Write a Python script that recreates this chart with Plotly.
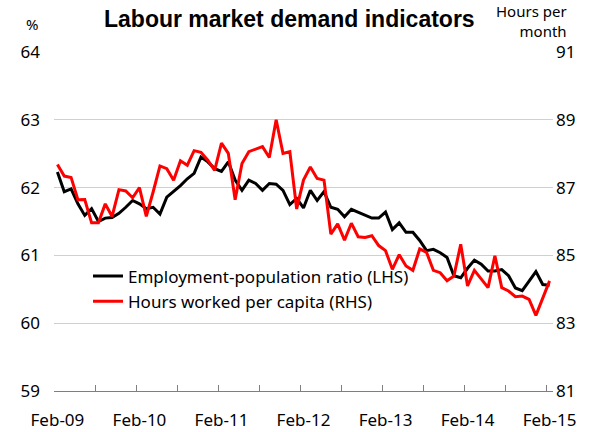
import plotly.graph_objects as go
import pandas as pd

months = pd.date_range("2009-02-01", "2015-02-01", freq="MS").strftime("%b-%y").tolist()

emp_pop_ratio = [
    62.23, 61.94, 61.98, 61.76, 61.59, 61.69, 61.50, 61.55, 61.56, 61.62,
    61.71, 61.81, 61.76, 61.69, 61.71, 61.61, 61.86, 61.94, 62.03, 62.13,
    62.21, 62.45, 62.38, 62.28, 62.24, 62.38, 62.11, 61.96, 62.11, 62.06,
    61.96, 62.06, 62.05, 61.96, 61.75, 61.84, 61.70, 61.96, 61.81, 61.94,
    61.71, 61.68, 61.57, 61.68, 61.64, 61.60, 61.55, 61.55, 61.64, 61.38,
    61.48, 61.34, 61.34, 61.22, 61.07, 61.09, 61.04, 60.97, 60.70, 60.67,
    60.81, 60.93, 60.87, 60.77, 60.77, 60.79, 60.70, 60.52, 60.48, 60.62,
    60.76, 60.57, 60.56,
]

hours_per_capita = [
    87.68, 87.34, 87.30, 86.64, 86.65, 85.96, 85.96, 86.52, 86.15, 86.94,
    86.90, 86.70, 87.00, 86.15, 86.87, 87.64, 87.56, 87.22, 87.79, 87.66,
    88.09, 88.04, 87.81, 87.51, 88.31, 88.01, 86.64, 87.71, 88.06, 88.13,
    88.21, 87.89, 89.00, 88.01, 88.06, 86.37, 87.22, 87.61, 87.27, 87.22,
    85.63, 85.93, 85.45, 85.95, 85.55, 85.53, 85.58, 85.29, 85.14, 84.59,
    85.02, 84.69, 84.56, 85.19, 85.09, 84.56, 84.49, 84.25, 84.39, 85.33,
    84.10, 84.56, 84.29, 84.05, 84.99, 84.05, 83.95, 83.78, 83.80, 83.70,
    83.23, 83.75, 84.25,
]

x_tick_labels = ["Feb-09", "Feb-10", "Feb-11", "Feb-12", "Feb-13", "Feb-14", "Feb-15"]
x_tick_positions = [months.index(lbl) for lbl in x_tick_labels]
idx = list(range(len(months)))
# tick marks sit between categories, every 6 months
x_tick_marks = [i - 0.5 for i in range(0, len(months) + 1, 6)]

BODY_FONT = "Noto Sans"
X_RANGE = [-0.5, 72.5]

fig = go.Figure()
fig.add_trace(go.Scatter(
    x=idx, y=emp_pop_ratio, mode="lines",
    name="Employment-population ratio (LHS)",
    line=dict(color="#000000", width=3),
    customdata=months,
    hovertemplate="%{customdata}: %{y}<extra></extra>",
))
fig.add_trace(go.Scatter(
    x=idx, y=hours_per_capita, mode="lines",
    name="Hours worked per capita (RHS)",
    line=dict(color="#ff0000", width=3),
    xaxis="x2", yaxis="y2", customdata=months,
    hovertemplate="%{customdata}: %{y}<extra></extra>",
))

W, H = 598, 432
l, r, t, b = 54, 45, 52, 41
pw, ph = W - l - r, H - t - b

def px_x(v):
    return (v - l) / pw

def px_y(v):
    return (H - b - v) / ph

fig.update_layout(
    width=W, height=H,
    margin=dict(l=l, r=r, t=t, b=b, autoexpand=False),
    paper_bgcolor="white", plot_bgcolor="white",
    font=dict(family=BODY_FONT, size=17, color="#000000"),
    showlegend=True,
    legend=dict(
        x=px_x(88), y=px_y(258.5), xanchor="left", yanchor="top",
        bgcolor="rgba(0,0,0,0)", font=dict(size=17, family=BODY_FONT),
        tracegroupgap=0,
    ),
    xaxis=dict(
        range=X_RANGE, automargin=False,
        tickmode="array", tickvals=x_tick_marks, showticklabels=False,
        ticks="inside", ticklen=6, tickcolor="#7f7f7f", tickwidth=1,
        showgrid=False, zeroline=False,
        showline=True, linecolor="#7f7f7f", linewidth=1,
    ),
    xaxis2=dict(
        range=X_RANGE, automargin=False, overlaying="x", side="bottom", anchor="y",
        tickmode="array", tickvals=x_tick_positions, ticktext=x_tick_labels,
        ticks="", showgrid=False, zeroline=False, showline=False,
        ticklabelstandoff=17,
    ),
    yaxis=dict(
        range=[59, 64], dtick=1, tick0=59, automargin=False,
        showgrid=True, gridcolor="#d0d0d0", gridwidth=1,
        zeroline=False, showline=False, ticks="",
        ticklabelstandoff=13,
    ),
    yaxis2=dict(
        range=[81, 91], dtick=2, tick0=81, automargin=False,
        overlaying="y", side="right", anchor="x2",
        showgrid=False, zeroline=False, showline=False, ticks="",
        ticklabelstandoff=2,
    ),
    annotations=[
        dict(text="<b>Labour market demand indicators</b>",
             x=px_x(289), y=px_y(19), xref="paper", yref="paper",
             xanchor="center", yanchor="middle", showarrow=False,
             font=dict(family="Liberation Sans", size=23, color="#000000")),
        dict(text="%", x=px_x(31.5), y=px_y(24), xref="paper", yref="paper",
             xanchor="center", yanchor="middle", showarrow=False,
             font=dict(family=BODY_FONT, size=15, color="#000000")),
        dict(text="Hours per<br>month", x=px_x(569), y=px_y(21),
             xref="paper", yref="paper", xanchor="right", yanchor="middle",
             align="right", showarrow=False,
             font=dict(family=BODY_FONT, size=15, color="#000000")),
    ],
)

fig.write_html(
    "out.html",
    config={"displayModeBar": False},
    post_script="document.body.style.margin='0';",
)
